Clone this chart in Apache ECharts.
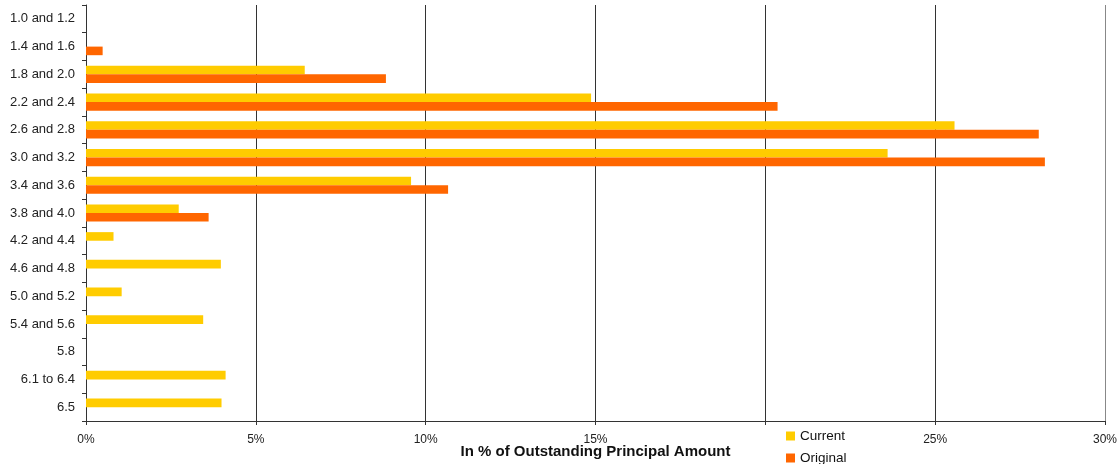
<!DOCTYPE html>
<html>
<head>
<meta charset="utf-8">
<script src="https://cdn.jsdelivr.net/npm/echarts@6/dist/echarts.min.js"></script>
<style>
  html, body { margin: 0; padding: 0; background: #fff; }
  #chart { width: 1119px; height: 464px; }
</style>
</head>
<body>
<div id="chart"></div>
<script>
// Interest rate buckets (top to bottom)
const categories = [
  '1.0 and 1.2', '1.4 and 1.6', '1.8 and 2.0', '2.2 and 2.4', '2.6 and 2.8',
  '3.0 and 3.2', '3.4 and 3.6', '3.8 and 4.0', '4.2 and 4.4', '4.6 and 4.8',
  '5.0 and 5.2', '5.4 and 5.6', '5.8', '6.1 to 6.4', '6.5'
];
// Share of outstanding principal amount, in %
const currentValues = [0, 0, 6.44, 14.87, 25.57, 23.6, 9.57, 2.73, 0.81, 3.97, 1.05, 3.45, 0, 4.11, 3.99];
const originalValues = [0, 0.49, 8.83, 20.36, 28.05, 28.23, 10.66, 3.61, 0, 0, 0, 0, 0, 0, 0];
// X axis ticks (the 20% tick carries no label)
const xTicks = [0, 5, 10, 15, 20, 25, 30];
const hiddenTickLabels = [20];

const chart = echarts.init(document.getElementById('chart'), null, { renderer: 'canvas' });

const font = 'Arial, "Liberation Sans", Helvetica, sans-serif';

chart.setOption({
  animation: false,
  backgroundColor: '#ffffff',
  grid: { left: 86, right: 14, top: 5, bottom: 43, containLabel: false, outerBoundsMode: 'none' },
  legend: {
    orient: 'vertical',
    left: 786,
    top: 429,
    width: 80,
    height: 60,
    padding: 0,
    itemWidth: 9,
    itemHeight: 9,
    itemGap: 8,
    icon: 'rect',
    textStyle: { fontFamily: font, fontSize: 13.5, color: '#111' },
    data: ['Current', 'Original']
  },
  xAxis: {
    type: 'value',
    min: xTicks[0],
    max: xTicks[xTicks.length - 1],
    interval: xTicks[1] - xTicks[0],
    name: 'In % of Outstanding Principal Amount',
    nameLocation: 'middle',
    nameGap: 23,
    nameMoveOverlap: false,
    nameTextStyle: { fontFamily: font, fontSize: 15, fontWeight: 'bold', color: '#111' },
    axisLine: { show: true, lineStyle: { color: '#333', width: 1 } },
    axisTick: { show: true, length: 4, lineStyle: { color: '#333' } },
    axisLabel: {
      margin: 13,
      fontFamily: font,
      fontSize: 12,
      color: '#222',
      formatter: v => hiddenTickLabels.includes(v) ? '' : v + '%'
    },
    splitLine: {
      show: true,
      lineStyle: { color: ['#333', '#333', '#333', '#333', '#333', '#333', '#888'], width: 1 }
    }
  },
  yAxis: {
    type: 'category',
    data: categories,
    inverse: true,
    axisLine: { show: true, lineStyle: { color: '#333', width: 1 } },
    axisTick: { show: true, length: 4, lineStyle: { color: '#333' } },
    axisLabel: { margin: 11, fontFamily: font, fontSize: 13, color: '#222' },
    splitLine: { show: false }
  },
  series: [
    {
      name: 'Current',
      type: 'bar',
      data: currentValues,
      itemStyle: { color: '#FFCC00' },
      barGap: '0%',
      barCategoryGap: '38%'
    },
    {
      name: 'Original',
      type: 'bar',
      data: originalValues,
      itemStyle: { color: '#FF6600' },
      barGap: '0%',
      barCategoryGap: '38%'
    }
  ]
});
</script>
</body>
</html>
